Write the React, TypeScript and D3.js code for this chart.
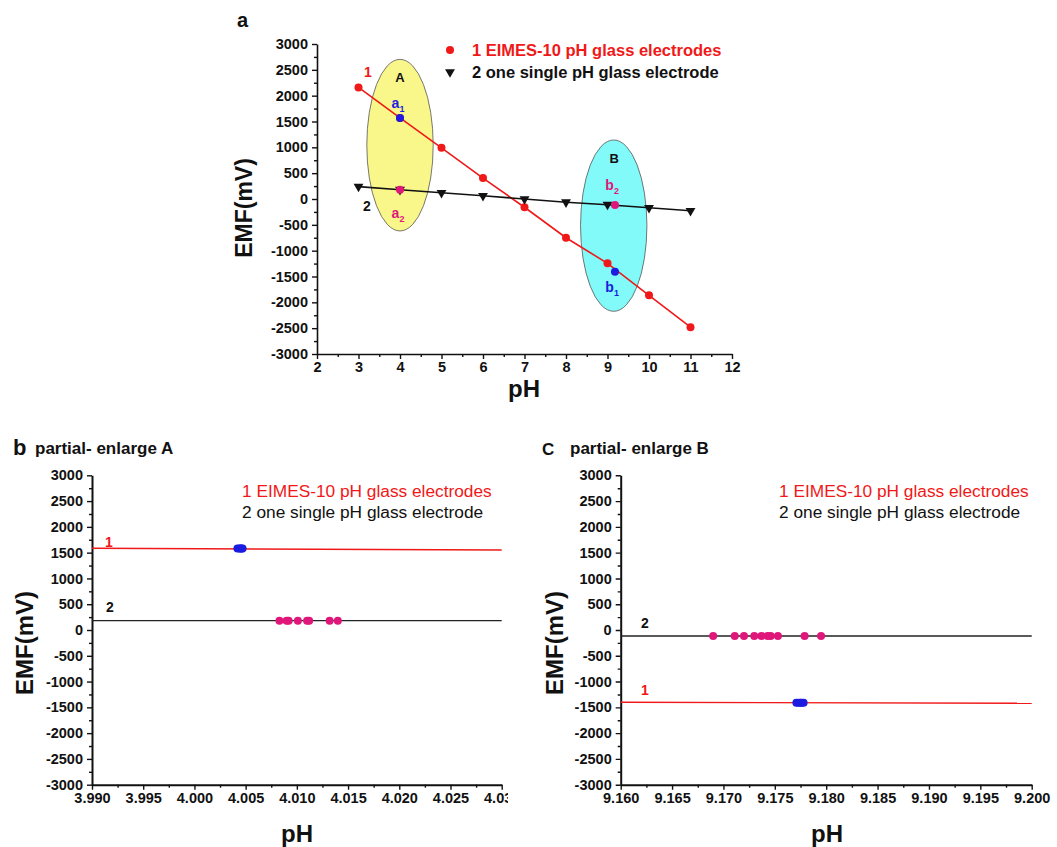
import React, { useEffect, useRef } from "react";
import * as d3 from "d3";

// panel a: full range
const phMain = [3, 4, 5, 6, 7, 8, 9, 10, 11];
const emfMulti = [2160, 1570, 990, 405, -160, -750, -1245, -1865, -2480];
const emfSingle = [240, 180, 120, 62, 0, -62, -110, -170, -228];
const highlightPh = [4, 9.18];
const highlightMulti = [1570, -1406];
const highlightSingle = [180, -116];
const ellipseNames = ["A", "B"];
const ellipseCx = [4, 9.15];
const ellipseCy = [1042, -516];
const ellipseRx = [0.8, 0.8];
const ellipseRy = [1660, 1658];
const ellipseFill = ["#f9f78a", "#82fafa"];

// panel b: partial enlarge A
const bBluePh = [4.0042, 4.0044, 4.0045, 4.0046, 4.0047];
const bBlueEmf = 1580;
const bPinkPh = [4.0083, 4.009, 4.0092, 4.0101, 4.011, 4.0112, 4.0132, 4.014];
const bPinkEmf = 181;
const bLine1 = [[3.99, 1585], [4.03, 1552]];
const bLine2 = [[3.99, 181], [4.03, 181]];
const bTicks = [3.99, 3.995, 4.0, 4.005, 4.01, 4.015, 4.02, 4.025, 4.03];

// panel c: partial enlarge B
const cBluePh = [9.1771, 9.1773, 9.1775, 9.1776, 9.1778];
const cBlueEmf = -1410;
const cPinkPh = [9.169, 9.1711, 9.172, 9.173, 9.1737, 9.1743, 9.1746, 9.1753, 9.1779, 9.1795];
const cPinkEmf = -116;
const cLine1 = [[9.16, -1402], [9.2, -1421]];
const cLine2 = [[9.16, -116], [9.2, -116]];
const cTicks = [9.16, 9.165, 9.17, 9.175, 9.18, 9.185, 9.19, 9.195, 9.2];

const emfTicks = d3.range(-3000, 3001, 500);
const emfMinor = d3.range(-2750, 3000, 500);

const RED = "#f01818";
const BLUE = "#1c1ce0";
const PINK = "#e0177a";
const FONT = "Arial, 'Liberation Sans', Helvetica, sans-serif";

const drawAxes = (g, x, y, xTicks, xMinor, fmt, lw) => {
    const h = y.range()[0];
    const x0 = x.range()[0];
    const xa = g.append("g").attr("transform", `translate(0,${h})`)
        .call(d3.axisBottom(x).tickValues(xTicks).tickFormat(fmt).tickSize(5).tickSizeOuter(0).tickPadding(3));
    g.append("g").attr("transform", `translate(0,${h})`)
        .call(d3.axisBottom(x).tickValues(xMinor).tickFormat(() => "").tickSize(3).tickSizeOuter(0))
        .select(".domain").remove();
    const ya = g.append("g").attr("transform", `translate(${x0},0)`)
        .call(d3.axisLeft(y).tickValues(emfTicks).tickFormat((d) => String(d)).tickSize(5).tickSizeOuter(0).tickPadding(4));
    g.append("g").attr("transform", `translate(${x0},0)`)
        .call(d3.axisLeft(y).tickValues(emfMinor).tickFormat(() => "").tickSize(3).tickSizeOuter(0))
        .select(".domain").remove();
    [xa, ya].forEach((a) => {
        a.selectAll("text").style("font-family", FONT).style("font-size", "14.5px").style("font-weight", "bold").attr("fill", "#111");
    });
    g.selectAll(".domain").attr("stroke-width", lw).attr("stroke", "#111");
    g.selectAll(".tick line").attr("stroke-width", 1.4).attr("stroke", "#111");
};

const addText = (g, x, y, txt, size, color, weight = "bold", anchor = "start") =>
    g.append("text").attr("x", x).attr("y", y).attr("fill", color)
        .style("font-family", FONT).style("font-size", `${size}px`).style("font-weight", weight)
        .attr("text-anchor", anchor).text(txt);

const addSub = (g, x, y, main, sub, color) => {
    const t = g.append("text").attr("x", x).attr("y", y).attr("fill", color).attr("text-anchor", "middle")
        .style("font-family", FONT).style("font-size", "14px").style("font-weight", "bold");
    t.append("tspan").text(main);
    t.append("tspan").attr("dy", 4).style("font-size", "9px").text(sub);
};

const App = () => {
    const svgRef = useRef(null);

    useEffect(() => {
        const svg = d3.select(svgRef.current);
        svg.selectAll("*").remove();

        // ---------- panel a ----------
        const xa = d3.scaleLinear().domain([2, 12]).range([317, 732]);
        const ya = d3.scaleLinear().domain([-3000, 3000]).range([354, 44]);
        const ga = svg.append("g");

        ellipseNames.forEach((n, i) => {
            ga.append("ellipse")
                .attr("cx", xa(ellipseCx[i]))
                .attr("cy", ya(ellipseCy[i]))
                .attr("rx", xa(ellipseCx[i] + ellipseRx[i]) - xa(ellipseCx[i]))
                .attr("ry", ya(ellipseCy[i]) - ya(ellipseCy[i] + ellipseRy[i]))
                .attr("fill", ellipseFill[i])
                .attr("stroke", "#555")
                .attr("stroke-width", 0.8);
        });

        drawAxes(ga, xa, ya, d3.range(2, 12.01, 1), d3.range(2.5, 12, 1), (d) => String(d), 1.6);

        const line = d3.line().x((d) => xa(d[0])).y((d) => ya(d[1]));
        ga.append("path").datum(phMain.map((p, i) => [p, emfMulti[i]]))
            .attr("d", line).attr("fill", "none").attr("stroke", RED).attr("stroke-width", 1.6);
        ga.append("path").datum(phMain.map((p, i) => [p, emfSingle[i]]))
            .attr("d", line).attr("fill", "none").attr("stroke", "#111").attr("stroke-width", 1.6);

        ga.selectAll(".red").data(phMain).enter().append("circle")
            .attr("cx", (d) => xa(d)).attr("cy", (d, i) => ya(emfMulti[i])).attr("r", 4).attr("fill", RED);
        const tri = d3.symbol().type(d3.symbolTriangle).size(42);
        ga.selectAll(".tri").data(phMain).enter().append("path")
            .attr("d", tri)
            .attr("transform", (d, i) => `translate(${xa(d)},${ya(emfSingle[i])}) rotate(180)`)
            .attr("fill", "#111");
        highlightPh.forEach((p, i) => {
            ga.append("circle").attr("cx", xa(p)).attr("cy", ya(highlightMulti[i])).attr("r", 4).attr("fill", BLUE);
            ga.append("circle").attr("cx", xa(p)).attr("cy", ya(highlightSingle[i])).attr("r", 4).attr("fill", PINK);
        });

        addText(ga, xa(4), 82, "A", 13, "#111", "bold", "middle");
        addText(ga, xa(9.16), 163, "B", 13, "#111", "bold", "middle");
        addSub(ga, xa(4) - 2, 108, "a", "1", BLUE);
        addSub(ga, xa(4) - 2, 218, "a", "2", PINK);
        addSub(ga, xa(9.16) - 2, 190, "b", "2", PINK);
        addSub(ga, xa(9.16) - 2, 292, "b", "1", BLUE);
        addText(ga, 368, 77, "1", 14, RED, "bold", "middle");
        addText(ga, 367, 211, "2", 14, "#111", "bold", "middle");

        ga.append("circle").attr("cx", 450).attr("cy", 50).attr("r", 4).attr("fill", RED);
        ga.append("path").attr("d", tri).attr("transform", "translate(450,72) rotate(180)").attr("fill", "#111");
        addText(ga, 472, 56, "1 EIMES-10 pH glass electrodes", 16.5, RED);
        addText(ga, 472, 78, "2 one single pH glass electrode", 16.5, "#111");

        addText(ga, 237, 27, "a", 20, "#111");
        addText(ga, 524, 397, "pH", 24, "#111", "bold", "middle");
        ga.append("text").attr("transform", "translate(252,208) rotate(-90)").attr("text-anchor", "middle")
            .style("font-family", FONT).style("font-size", "23px").style("font-weight", "bold").attr("fill", "#111")
            .text("EMF(mV)");

        // ---------- panels b and c ----------
        const panels = [
            {
                x0: 92, x1: 501.7, dom: [3.99, 4.03], ticks: bTicks, blue: bBluePh, blueEmf: bBlueEmf,
                pink: bPinkPh, pinkEmf: bPinkEmf, l1: bLine1, l2: bLine2, clip: 508,
                letter: "b", letterSize: 22, letterX: 13, title: "partial- enlarge A", titleX: 35,
                legendX: 242, lab1: [109, 547], lab2: [110, 612], yLabX: 33, phX: 297,
            },
            {
                x0: 620.7, x1: 1031.7, dom: [9.16, 9.2], ticks: cTicks, blue: cBluePh, blueEmf: cBlueEmf,
                pink: cPinkPh, pinkEmf: cPinkEmf, l1: cLine1, l2: cLine2, clip: 1057,
                letter: "C", letterSize: 17, letterX: 542, title: "partial- enlarge B", titleX: 570,
                legendX: 779, lab1: [645, 695], lab2: [645, 628], yLabX: 563, phX: 827,
            },
        ];

        panels.forEach((p, k) => {
            const clipId = `clip${k}`;
            svg.append("clipPath").attr("id", clipId).append("rect")
                .attr("x", p.x0 - 100).attr("y", 440).attr("width", p.clip - p.x0 + 100).attr("height", 400);
            const g = svg.append("g").attr("clip-path", `url(#${clipId})`);
            const x = d3.scaleLinear().domain(p.dom).range([p.x0, p.x1]);
            const y = d3.scaleLinear().domain([-3000, 3000]).range([784.7, 475.3]);
            const minor = p.ticks.slice(0, -1).map((t) => t + 0.0025);
            drawAxes(g, x, y, p.ticks, minor, d3.format(".3f"), 2);

            const ln = d3.line().x((d) => x(d[0])).y((d) => y(d[1]));
            g.append("path").datum(p.l1).attr("d", ln).attr("stroke", RED).attr("stroke-width", 1.4).attr("fill", "none");
            g.append("path").datum(p.l2).attr("d", ln).attr("stroke", "#222").attr("stroke-width", 1.4).attr("fill", "none");

            g.selectAll(".pk").data(p.pink).enter().append("circle")
                .attr("cx", (d) => x(d)).attr("cy", y(p.pinkEmf)).attr("r", 4).attr("fill", PINK);
            g.selectAll(".bl").data(p.blue).enter().append("circle")
                .attr("cx", (d) => x(d)).attr("cy", y(p.blueEmf)).attr("r", 4).attr("fill", BLUE);

            addText(g, p.lab1[0], p.lab1[1], "1", 14, RED, "bold", "middle");
            addText(g, p.lab2[0], p.lab2[1], "2", 14, "#111", "bold", "middle");
            addText(g, p.legendX, 497, "1 EIMES-10 pH glass electrodes", 17.3, RED, "normal");
            addText(g, p.legendX, 518, "2 one single pH glass electrode", 17.3, "#111", "normal");

            addText(svg, p.letterX, 455, p.letter, p.letterSize, "#111");
            addText(svg, p.titleX, 454, p.title, 17, "#111");
            addText(svg, p.phX, 842, "pH", 24, "#111", "bold", "middle");
            svg.append("text").attr("transform", `translate(${p.yLabX},643) rotate(-90)`).attr("text-anchor", "middle")
                .style("font-family", FONT).style("font-size", "24px").style("font-weight", "bold").attr("fill", "#111")
                .text("EMF(mV)");
        });
    }, []);

    return (
        <div style={{ position: "absolute", left: 0, top: 0, background: "#fff" }}>
            <svg ref={svgRef} width={1057} height={847}></svg>
        </div>
    );
};

export default App;
